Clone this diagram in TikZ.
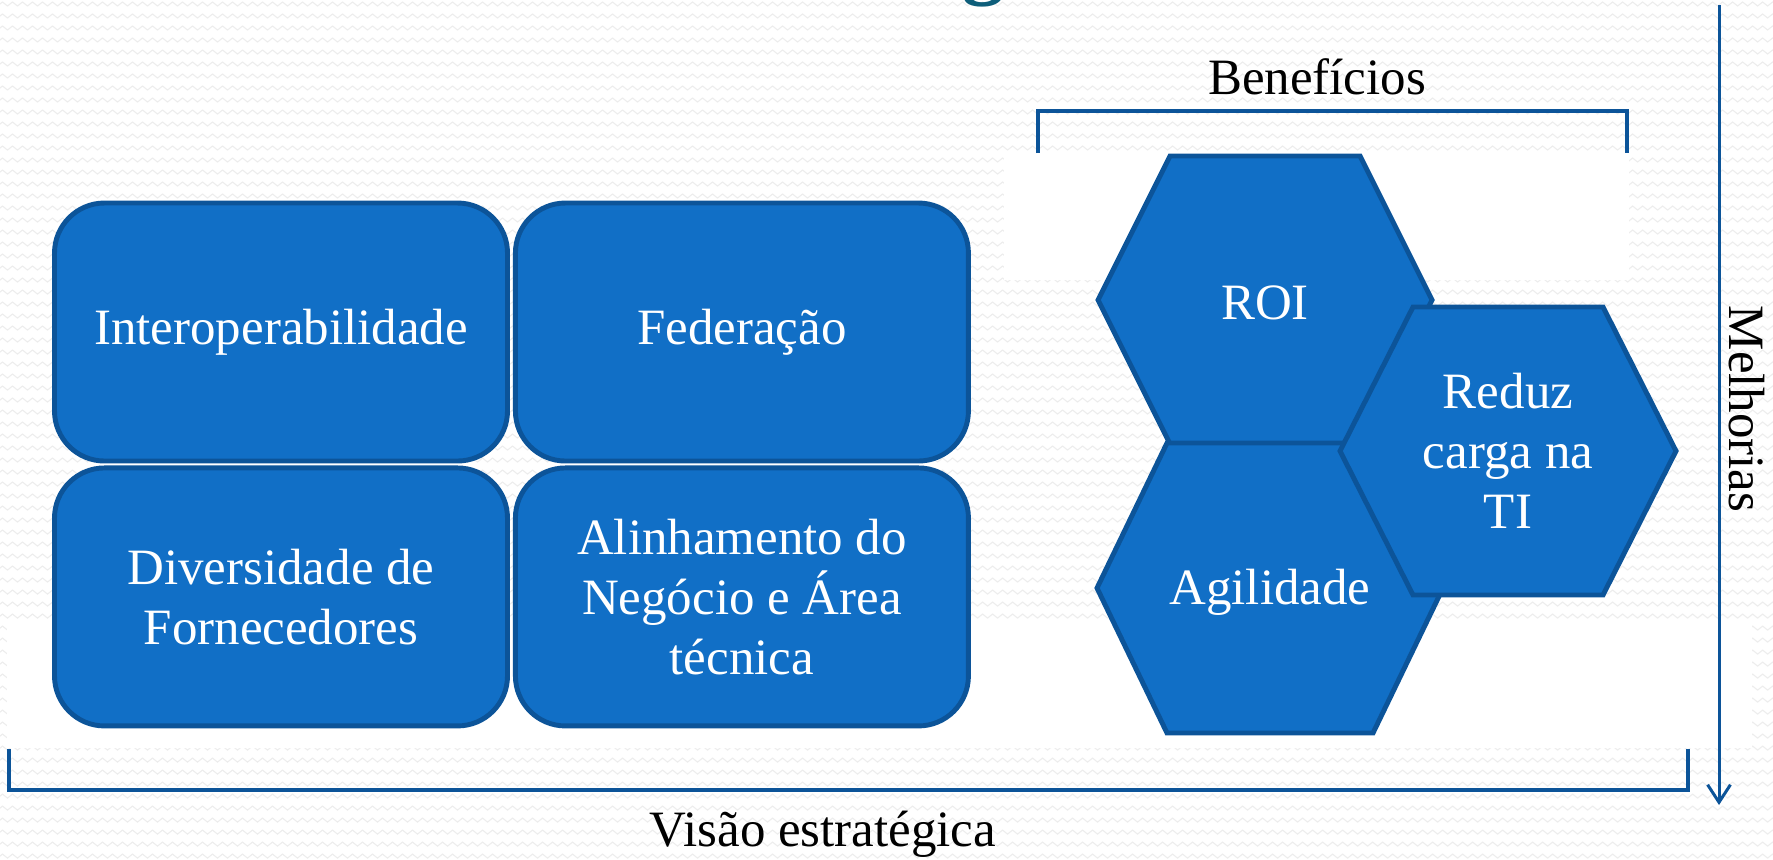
\documentclass[tikz,border=0pt]{standalone}
\usepackage{fontspec}
\setmainfont{Liberation Serif}
\usetikzlibrary{positioning,arrows.meta,decorations.pathmorphing}
\definecolor{boxblue}{RGB}{17,111,198}
\definecolor{edgeblue}{RGB}{12,84,153}
\definecolor{titleteal}{RGB}{14,94,122}
\newcommand\boxfont{\fontsize{14.5}{17}\selectfont}
\tikzset{
  box/.style={draw=edgeblue, fill=boxblue, line width=1.4pt, rounded corners=0.5cm,
    minimum width=4.53cm, minimum height=2.58cm, text=white, align=center, font=\boxfont},
  hexbox/.style={draw=edgeblue, fill=boxblue, line width=1.4pt, line join=miter},
  hextext/.style={text=white, align=center, font=\boxfont},
  captext/.style={text=black, font=\boxfont},
  brace/.style={draw=edgeblue, line width=1.4pt},
  bgline/.style={draw=gray!14, line width=0.3pt, decorate,
    decoration={zigzag, segment length=0.1cm, amplitude=0.02cm}}
}
\begin{document}
\begin{tikzpicture}
    \useasboundingbox (0,0) rectangle (17.73,-8.59);
    \clip (0,0) rectangle (17.73,-8.59);
    % background texture
    \fill[white] (0,0) rectangle (17.73,-8.59);
    \foreach \y in {0.04,0.16,...,8.6}
        \draw[bgline] (-0.1,-\y) -- (17.9,-\y);
    \fill[white] (10.04,-1.54) rectangle (16.29,-2.80);
    \fill[white] (0.07,-6.21) rectangle (17.52,-7.48);
    % cut title
    \node[anchor=south, inner sep=0pt, text=titleteal, font=\fontsize{24}{28}\selectfont\bfseries] (title) at (9.84,-0.08) {g};
    % boxes
    \node[box] (interop) at (2.81,-3.32) {Interoperabilidade};
    \node[box, right=0.03cm of interop] (fed) {Federação};
    \node[box, below=0.02cm of interop] (div) {Diversidade de\\Fornecedores};
    \node[box, right=0.03cm of div] (alin) {Alinhamento do\\Negócio e Área\\técnica};
    % hexagons
    \draw[hexbox] (11.70,-1.56) -- (13.60,-1.56) -- (14.32,-3.00) -- (13.60,-4.44) -- (11.70,-4.44) -- (10.98,-3.00) -- cycle;
    \draw[hexbox] (11.67,-4.43) -- (13.73,-4.43) -- (14.43,-5.88) -- (13.73,-7.33) -- (11.67,-7.33) -- (10.97,-5.88) -- cycle;
    \draw[hexbox] (14.13,-3.07) -- (16.03,-3.07) -- (16.76,-4.51) -- (16.03,-5.95) -- (14.13,-5.95) -- (13.40,-4.51) -- cycle;
    \node[hextext] (roi) at (12.65,-3.03) {ROI};
    \node[hextext] (agil) at (12.70,-5.92) {Agilidade};
    \node[hextext] (reduz) at (15.08,-4.51) {Reduz\\carga na\\TI};
    % brackets
    \node[captext] (benef) at (13.17,-0.77) {Benefícios};
    \coordinate (b1) at (10.38,-1.53);
    \coordinate (b2) at (16.27,-1.53);
    \draw[brace] (b1) -- (10.38,-1.11) -- (16.27,-1.11) -- (b2);
    \node[captext] (visao) at (8.23,-8.34) {Visão estratégica};
    \coordinate (v1) at (0.09,-7.49);
    \coordinate (v2) at (16.88,-7.49);
    \draw[brace] (v1) -- (0.09,-7.90) -- (16.88,-7.90) -- (v2);
    % arrow
    \node[captext, rotate=-90] (melhor) at (17.47,-4.09) {Melhorias};
    \coordinate (m1) at (17.19,-0.05);
    \coordinate (m2) at (17.19,-8.05);
    \draw[edgeblue, line width=0.85pt, -{Straight Barb[length=5pt,width=6.5pt]}] (m1) -- (m2);
\end{tikzpicture}
\end{document}
